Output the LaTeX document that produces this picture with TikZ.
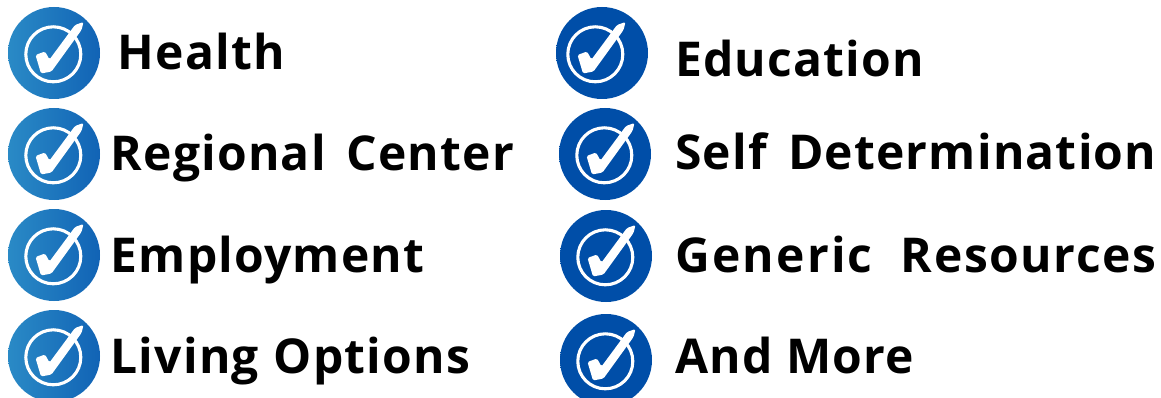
\documentclass[tikz,border=0pt]{standalone}
\usepackage{fontspec}
\setmainfont{Open Sans}[LetterSpace=2.5]
\tikzset{x=1pt,y=-1pt,
  lab/.style={anchor=base west,inner sep=0pt,font=\fontsize{48}{48}\selectfont\bfseries,text=black}}
\definecolor{cA}{HTML}{2A8AC6}\definecolor{cB}{HTML}{1163B5}\definecolor{cC}{HTML}{004EA8}
\newcommand{\tick}[5]{% x y leftcolor rightcolor ringdx
  \shade[left color=#3,right color=#4] (#1,#2) circle (46);
  \draw[white,line width=3.1pt] (#1+#5-0.7,#2+1.3) circle (27.5);
  \fill[white,rounded corners=1.5pt] (#1+#5-18.5,#2+2) -- (#1+#5-9,#2-1.5) -- (#1+#5-4.5,#2+6.5) -- (#1+#5+21,#2-28) -- (#1+#5+29.5,#2-31) -- (#1+#5+27.5,#2-23) -- (#1+#5-2.5,#2+18.5) -- (#1+#5-13,#2+20.5) -- cycle;}
\begin{document}
\begin{tikzpicture}
\useasboundingbox (0,0) rectangle (1161,398);
\tick{54}{53}{cA}{cB}{0}
\tick{54}{154}{cA}{cB}{0}
\tick{54}{255}{cA}{cB}{0}
\tick{54}{356}{cA}{cB}{0}
\tick{602}{53}{cC}{cC}{-6}
\tick{605}{154}{cC}{cC}{0}
\tick{606}{256}{cC}{cC}{0}
\tick{606}{360}{cC}{cC}{0}
\node[lab] (a) at (117.5,70) {Health};
\node[lab] (b) at (110.5,171) {Regional\hspace{7pt} Center};
\node[lab] (c) at (110.5,272) {Employment};
\node[lab] (d) at (110.5,373) {Living\hspace{1pt} Options};
\node[lab] (e) at (675,77) {Education};
\node[lab] (f) at (675,170) {Self\hspace{7.5pt} Determination};
\node[lab] (g) at (675,272) {{\addfontfeature{LetterSpace=4.6}Generic}\hspace{1pt}\ \ {\addfontfeature{LetterSpace=3.2}Resources}};
\node[lab] (h) at (675,373) {And More};
\end{tikzpicture}
\end{document}
